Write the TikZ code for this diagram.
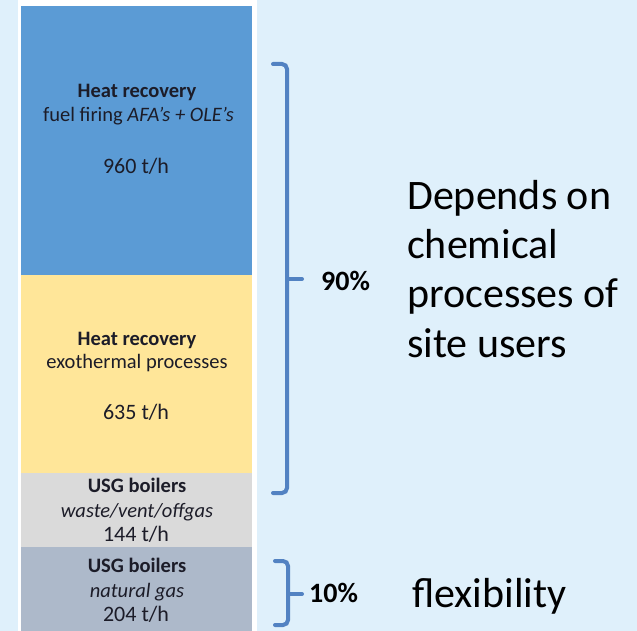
\documentclass[tikz,border=0pt]{standalone}
\usepackage{fontspec}
\setmainfont{Carlito}
\usepackage{xcolor}
\usetikzlibrary{positioning}

\definecolor{bgblue}{HTML}{DFF0FB}
\definecolor{barblue}{HTML}{5B9BD5}
\definecolor{baryellow}{HTML}{FFE699}
\definecolor{bargrey}{HTML}{DADADA}
\definecolor{barslate}{HTML}{ADB9CA}
\definecolor{bracecol}{HTML}{5282C2}
\definecolor{txtdark}{HTML}{1C1C28}

\tikzset{
  bar/.style={draw=none, minimum width=231pt, inner sep=0pt, outer sep=0pt},
  boxhead/.style={font=\fontsize{20.5}{24}\selectfont\bfseries, text=txtdark, inner sep=0pt, anchor=base},
  boxtext/.style={font=\fontsize{20.5}{24}\selectfont, text=txtdark, inner sep=0pt, anchor=base},
  boxval/.style={font=\fontsize{22}{26}\selectfont, text=txtdark, inner sep=0pt, anchor=base},
  bracket/.style={draw=bracecol, line width=4pt, line cap=round, rounded corners=5pt},
  pct/.style={font=\fontsize{28}{32}\selectfont\bfseries, inner sep=0pt, anchor=base west},
  remark/.style={font=\fontsize{42}{49.3}\selectfont, align=left, inner sep=0pt}
}

\begin{document}
\begin{tikzpicture}[x=1pt, y=-1pt]

  \fill[bgblue] (0,0) rectangle (637,631);
  \useasboundingbox (0,0) rectangle (637,631);
  \fill[white] (18,0) rectangle (257,631);

  % stacked bars
  \node[bar, fill=barblue, minimum height=269pt] (fuel) at (136.5,140.5) {};
  \node[bar, fill=baryellow, minimum height=198pt] (exo) at (136.5,374) {};
  \node[bar, fill=bargrey, minimum height=74pt] (waste) at (136.5,510) {};
  \node[bar, fill=barslate, minimum height=84pt] (natgas) at (136.5,589) {};

  % texts in the bars
  \node[boxhead] (fuelhead) at (137,98) {Heat recovery};
  \node[boxtext] (fueltext) at (138.5,122) {fuel firing \textit{AFA’s + OLE’s}};
  \node[boxval] (fuelval) at (136,174) {960 t/h};

  \node[boxhead] (exohead) at (137,345) {Heat recovery};
  \node[boxtext] (exotext) at (137,368) {exothermal processes};
  \node[boxval] (exoval) at (136,419) {635 t/h};

  \node[boxhead] (wastehead) at (137,492) {USG boilers};
  \node[boxtext] (wastetext) at (137,517) {\textit{waste/vent/offgas}};
  \node[boxval] (wasteval) at (136,541) {144 t/h};

  \node[boxhead] (nathead) at (137,572) {USG boilers};
  \node[boxtext] (nattext) at (137,597) {\textit{natural gas}};
  \node[boxval] (natval) at (136,621) {204 t/h};

  % brackets
  \coordinate (b1top) at (273,64);
  \coordinate (b1bot) at (273,493);
  \coordinate (b1tip) at (302,279);
  \draw[bracket] (b1top) -- (287,64) -- (287,493) -- (b1bot);
  \draw[bracket, rounded corners=0pt] (287,279) -- (b1tip);

  \coordinate (b2top) at (275,561);
  \coordinate (b2bot) at (275,625);
  \coordinate (b2tip) at (302,594);
  \draw[bracket] (b2top) -- (288,561) -- (288,625) -- (b2bot);
  \draw[bracket, rounded corners=0pt] (288,594) -- (b2tip);

  % labels
  \node[pct] (ninety) at (321,290) {90\%};
  \node[pct] (ten) at (309,602) {10\%};

  \node[remark, anchor=north west] (depends) at (407,180)
  {Depends on\\chemical\\processes of\\site users};
  \node[remark, anchor=base west] (flex) at (412,607) {flexibility};

\end{tikzpicture}
\end{document}
